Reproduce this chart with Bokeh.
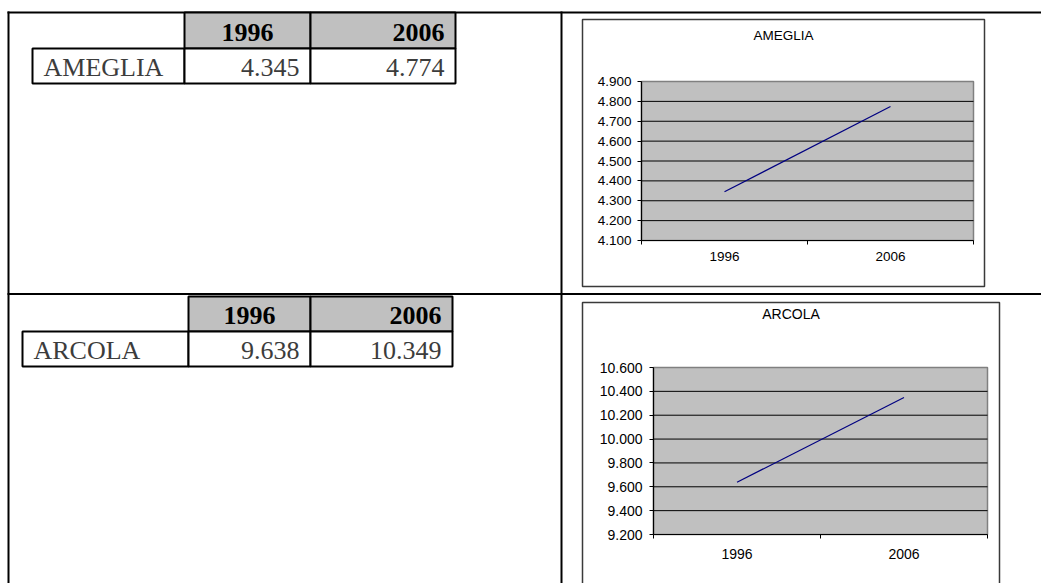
from bokeh.plotting import figure
from bokeh.models import Range1d, LinearAxis, FixedTicker, CustomJSTickFormatter
from bokeh.core.properties import value
from bokeh.embed import file_html
from bokeh.resources import INLINE

# ---------------- data ----------------
years = ["1996", "2006"]
comuni = ["AMEGLIA", "ARCOLA"]
ameglia = [4345, 4774]
arcola = [9638, 10349]
ticks_ameglia = [4100, 4200, 4300, 4400, 4500, 4600, 4700, 4800, 4900]
ticks_arcola = [9200, 9400, 9600, 9800, 10000, 10200, 10400, 10600]

W, H = 1041, 583
SERIF = value("Liberation Serif")
SANS = value("Liberation Sans")
TXT_SHIFT = 0.36  # compensation (in em) of the baseline offset of svg text


def it_num(v):
    return f"{v:,}".replace(",", ".")


p = figure(width=W, height=H, x_range=Range1d(0, W), y_range=Range1d(H, 0),
           x_axis_type=None, y_axis_type=None, output_backend="svg",
           toolbar_location=None, min_border=0, outline_line_color=None,
           background_fill_color="white", border_fill_color="white")

# ---------------- page (document table) borders ----------------
p.segment(x0=[7, 8, 561, 7], y0=[12, 11, 11, 293.5],
          x1=[W, 8, 561, W], y1=[12, H, H, 293.5],
          line_color="black", line_width=2)


# ---------------- small data tables ----------------
def data_table(name, vals, name_left, hdr_left, col_mid, right, top, mid, bottom):
    p.quad(left=[hdr_left, col_mid], right=[col_mid, right], top=[top, top],
           bottom=[mid, mid], fill_color="#C0C0C0", line_color="black", line_width=2)
    p.quad(left=[name_left, hdr_left, col_mid], right=[hdr_left, col_mid, right],
           top=[mid] * 3, bottom=[bottom] * 3, fill_color="white",
           line_color="black", line_width=2)
    fs = 26
    hb = mid - 6.5 - TXT_SHIFT * fs
    db = bottom - 6.5 - TXT_SHIFT * fs
    p.text(x=[(hdr_left + col_mid) / 2], y=[hb], text=[years[0]], text_font=SERIF,
           text_font_size=f"{fs}px", text_font_style="bold", text_align="center",
           text_baseline="alphabetic", text_color="black")
    p.text(x=[right - 11], y=[hb], text=[years[1]], text_font=SERIF,
           text_font_size=f"{fs}px", text_font_style="bold", text_align="right",
           text_baseline="alphabetic", text_color="black")
    p.text(x=[name_left + 11], y=[db], text=[name], text_font=SERIF,
           text_font_size=f"{fs}px", text_align="left", text_baseline="alphabetic",
           text_color="#3c3c3c")
    p.text(x=[col_mid - 11, right - 11], y=[db, db], text=[it_num(v) for v in vals],
           text_font=SERIF, text_font_size=f"{fs}px", text_align="right",
           text_baseline="alphabetic", text_color="#3c3c3c")


data_table(comuni[0], ameglia, 32, 184, 310, 455, 12, 48, 83)
data_table(comuni[1], arcola, 22, 188, 310, 452, 296, 331, 366)


# ---------------- charts ----------------
def x_span(px_lo, px_hi, v_lo, v_hi):
    per = (px_hi - px_lo) / (v_hi - v_lo)
    return Range1d(v_lo - px_lo / per, v_hi + (W - px_hi) / per)


def y_span(py_lo, py_hi, v_lo, v_hi):
    per = (py_lo - py_hi) / (v_hi - v_lo)
    return Range1d(v_lo - (H - py_lo) / per, v_hi + py_hi / per)


IT_FMT = CustomJSTickFormatter(code="""
    return Math.round(tick).toString().replace(/\\B(?=(\\d{3})+(?!\\d))/g, ".");
""")


def chart(key, title, vals, ticks, box, area, title_y, fs, y_standoff, x_standoff):
    bl, br, bt, bb = box
    al, ar, at, ab = area
    p.quad(left=[bl], right=[br], top=[bt], bottom=[bb], fill_color="white",
           line_color="#3a3a3a", line_width=1.5)
    p.text(x=[(bl + br) / 2], y=[title_y - TXT_SHIFT * fs], text=[title], text_font=SANS,
           text_font_size=f"{fs}px", text_align="center", text_baseline="alphabetic",
           text_color="black")
    n = len(years)
    xr, yr = key + "x", key + "y"
    p.extra_x_ranges[xr] = x_span(al, ar, 0.5, n + 0.5)
    p.extra_y_ranges[yr] = y_span(ab, at, ticks[0], ticks[-1])
    p.quad(left=[0.5], right=[n + 0.5], bottom=[ticks[0]], top=[ticks[-1]],
           x_range_name=xr, y_range_name=yr, fill_color="#C0C0C0",
           line_color="#808080", line_width=1.5)
    inner = ticks[1:-1]
    p.segment(x0=[0.5] * len(inner), x1=[n + 0.5] * len(inner), y0=inner, y1=inner,
              x_range_name=xr, y_range_name=yr, line_color="black", line_width=1)
    xs = list(range(1, n + 1))
    p.line(x=xs, y=vals, x_range_name=xr, y_range_name=yr,
           line_color="#000080", line_width=1.2)

    yaxis = LinearAxis(y_range_name=yr, fixed_location=al,
                       bounds=(ticks[0], ticks[-1]),
                       ticker=FixedTicker(ticks=ticks, minor_ticks=[]),
                       formatter=IT_FMT)
    yaxis.axis_line_color = "black"
    yaxis.axis_line_width = 1.2
    yaxis.major_tick_line_color = "black"
    yaxis.major_tick_out = 4
    yaxis.major_tick_in = 0
    yaxis.minor_tick_line_color = None
    yaxis.major_label_standoff = y_standoff
    yaxis.major_label_text_font = "Liberation Sans"
    yaxis.major_label_text_font_size = f"{fs}px"
    yaxis.major_label_text_color = "black"
    p.add_layout(yaxis, "left")

    xaxis = LinearAxis(x_range_name=xr, fixed_location=ab, bounds=(0.5, n + 0.5),
                       ticker=FixedTicker(ticks=xs, minor_ticks=[i + 0.5 for i in range(n + 1)]),
                       major_label_overrides={x: y for x, y in zip(xs, years)})
    xaxis.axis_line_color = "black"
    xaxis.axis_line_width = 1.2
    xaxis.major_tick_line_color = None
    xaxis.major_tick_out = 4
    xaxis.major_tick_in = 0
    xaxis.minor_tick_line_color = "black"
    xaxis.minor_tick_out = 4
    xaxis.minor_tick_in = 0
    xaxis.major_label_standoff = x_standoff
    xaxis.major_label_text_font = "Liberation Sans"
    xaxis.major_label_text_font_size = f"{fs}px"
    xaxis.major_label_text_color = "black"
    p.add_layout(xaxis, "below")


chart("c1", comuni[0], ameglia, ticks_ameglia,
      (582, 984, 19, 286), (641, 973, 81, 240), 40, 13.5, 6, 7)
chart("c2", comuni[1], arcola, ticks_arcola,
      (582, 999, 302, H + 5), (653, 987, 367, 534), 319, 14, 7, 10)

open("out.html", "w").write(file_html(p, INLINE))
